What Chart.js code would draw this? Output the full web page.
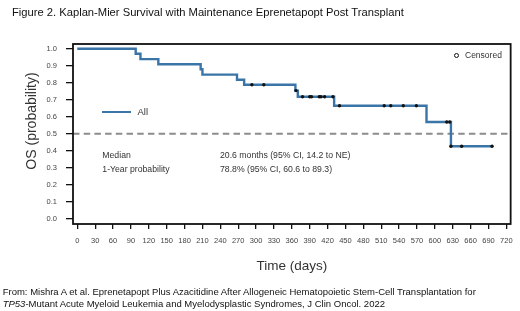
<!DOCTYPE html>
<html><head><meta charset="utf-8">
<script src="https://cdn.jsdelivr.net/npm/chart.js@4.4.1/dist/chart.umd.min.js"></script>
<style>
html,body{margin:0;padding:0;background:#fff;}
#wrap{position:relative;width:520px;height:311px;overflow:hidden;font-family:"Liberation Sans",Arial,sans-serif;}
canvas{position:absolute;left:0;top:0;}
.t{position:absolute;white-space:nowrap;color:#333;}
</style></head><body>
<div id="wrap">
<canvas id="c" width="520" height="311"></canvas>
<div class="t" style="left:12px;top:5px;font-size:11.2px;line-height:14px;color:#111">Figure 2. Kaplan-Mier Survival with Maintenance Eprenetapopt Post Transplant</div>
<div class="t" style="left:31px;top:121px;font-size:14px;line-height:16px;transform:translate(-50%,-50%) rotate(-90deg);">OS (probability)</div>
<div style="position:absolute;left:102px;top:111px;width:29px;height:2.4px;background:#3b74a7"></div>
<div class="t" style="left:137.5px;top:106.3px;font-size:9.5px;line-height:12px">All</div>
<div style="position:absolute;left:454.2px;top:52.5px;width:5px;height:5px;box-sizing:border-box;border:1.3px solid #111;border-radius:50%"></div>
<div class="t" style="left:465px;top:50px;font-size:8.5px;line-height:10px">Censored</div>
<div class="t" style="left:102.3px;top:150px;font-size:8.7px;line-height:10px">Median</div>
<div class="t" style="left:220px;top:150px;font-size:8.7px;line-height:10px">20.6 months (95% CI, 14.2 to NE)</div>
<div class="t" style="left:102.3px;top:164px;font-size:8.7px;line-height:10px">1-Year probability</div>
<div class="t" style="left:220px;top:164px;font-size:8.7px;line-height:10px">78.8% (95% CI, 60.6 to 89.3)</div>
<div class="t" style="left:2.7px;top:286px;font-size:9.5px;line-height:12px;color:#111">From: Mishra A et al. Eprenetapopt Plus Azacitidine After Allogeneic Hematopoietic Stem-Cell Transplantation for</div>
<div class="t" style="left:2.7px;top:297.5px;font-size:9.5px;line-height:12px;color:#111"><i>TP53</i>-Mutant Acute Myeloid Leukemia and Myelodysplastic Syndromes, J Clin Oncol. 2022</div>
</div>
<script>
const stepDays = [0, 98, 106, 136, 207, 210, 268, 280, 366, 370, 431, 586, 627, 696];
const survival = [1.000, 0.970, 0.939, 0.909, 0.879, 0.848, 0.818, 0.788, 0.754, 0.718, 0.665, 0.570, 0.427, 0.427];
const censorDays = [293, 313, 367, 378, 390, 393, 406, 409, 415, 429, 440, 515, 526, 547, 569, 620, 625, 627, 645, 696];
const censorSurv = [0.788, 0.788, 0.754, 0.718, 0.718, 0.718, 0.718, 0.718, 0.718, 0.718, 0.665, 0.665, 0.665, 0.665, 0.665, 0.570, 0.570, 0.427, 0.427, 0.427];
const refLevel = 0.5;
const xTicks = [0, 30, 60, 90, 120, 150, 180, 210, 240, 270, 300, 330, 360, 390, 420, 450, 480, 510, 540, 570, 600, 630, 660, 690, 720];
const yTicks = [0.0, 0.1, 0.2, 0.3, 0.4, 0.5, 0.6, 0.7, 0.8, 0.9, 1.0];
const xMin = -7.2, xMax = 727.2, yMin = -0.0294, yMax = 1.0276;

const FONT = '"Liberation Sans", Arial, sans-serif';
const framePlugin = {
  id: 'frame',
  afterDatasetsDraw(chart) {
    const {ctx, chartArea: a} = chart;
    ctx.save();
    ctx.strokeStyle = '#111';
    ctx.lineWidth = 1.8;
    ctx.strokeRect(a.left, a.top, a.right - a.left, a.bottom - a.top);
    ctx.restore();
  }
};

new Chart(document.getElementById('c'), {
  type: 'line',
  data: {
    datasets: [
      {
        type: 'scatter',
        label: 'Censored',
        data: censorDays.map((d, i) => ({x: d, y: censorSurv[i]})),
        pointRadius: 1.7,
        pointBackgroundColor: '#111',
        pointBorderWidth: 0,
        order: 1
      },
      {
        type: 'line',
        label: 'All',
        data: stepDays.map((d, i) => ({x: d, y: survival[i]})),
        stepped: true,
        borderColor: '#3b74a7',
        borderWidth: 2.4,
        pointRadius: 0,
        fill: false,
        order: 2
      },
      {
        type: 'line',
        label: 'ref',
        data: [{x: xMin, y: refLevel}, {x: xMax, y: refLevel}],
        borderColor: '#8c8c8c',
        borderWidth: 2,
        borderDash: [6.5, 4.2],
        pointRadius: 0,
        fill: false,
        order: 3
      }
    ]
  },
  options: {
    responsive: false,
    animation: false,
    devicePixelRatio: 1,
    layout: {padding: {left: 0, top: 44, right: 9, bottom: 37}},
    plugins: {legend: {display: false}, tooltip: {enabled: false}},
    scales: {
      x: {
        type: 'linear',
        min: xMin, max: xMax,
        afterBuildTicks: s => { s.ticks = xTicks.map(v => ({value: v})); },
        afterFit: s => { s.height = 50; },
        ticks: {font: {size: 7.5, family: FONT}, color: '#444', padding: 7.3, maxRotation: 0, autoSkip: false, callback: v => String(v)},
        grid: {display: true, drawOnChartArea: false, drawTicks: true, tickLength: 5, color: '#111', lineWidth: 1.3},
        border: {display: false},
        title: {display: true, text: 'Time (days)', font: {size: 13.5, family: FONT}, color: '#333', padding: {top: 1, bottom: 0}}
      },
      y: {
        type: 'linear',
        min: yMin, max: yMax,
        afterBuildTicks: s => { s.ticks = yTicks.map(v => ({value: v})); },
        afterFit: s => { s.width = 73; },
        ticks: {font: {size: 7.5, family: FONT}, color: '#444', padding: 9, autoSkip: false, callback: v => Number(v).toFixed(1)},
        grid: {display: true, drawOnChartArea: false, drawTicks: true, tickLength: 7, color: '#111', lineWidth: 1.3},
        border: {display: false}
      }
    }
  },
  plugins: [framePlugin]
});
</script>
</body></html>
